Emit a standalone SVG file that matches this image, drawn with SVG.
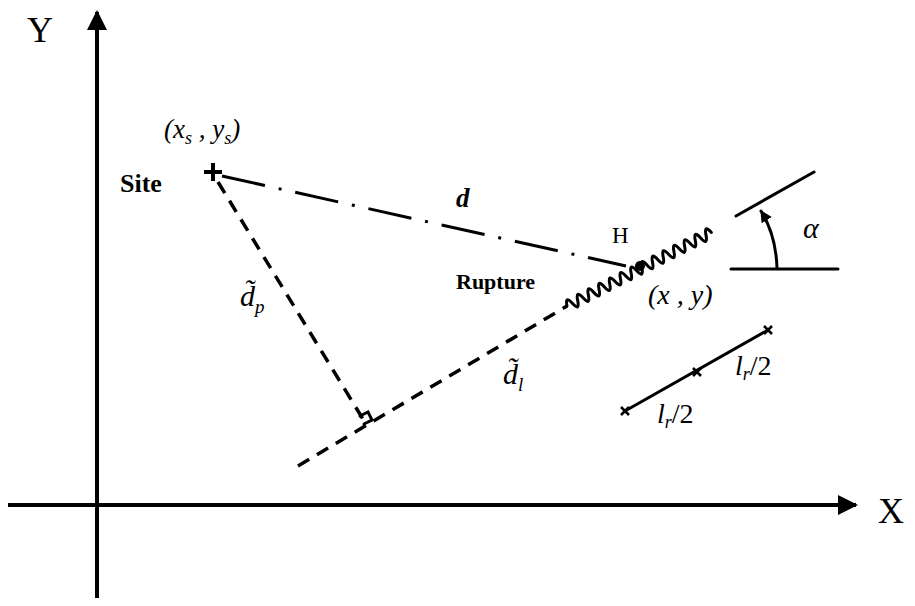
<svg xmlns="http://www.w3.org/2000/svg" width="915" height="606" viewBox="0 0 915 606">
<defs>
<style>
.ax{stroke:#000;stroke-width:4;fill:none}
.ln{stroke:#000;stroke-width:3;fill:none;stroke-linecap:round}
.dash{stroke:#000;stroke-width:3.5;fill:none;stroke-dasharray:13 9}
.dd{stroke:#000;stroke-width:3;fill:none;stroke-dasharray:44 14 3 14}
text{font-family:"Liberation Serif","Times New Roman",serif;fill:#000}
.it{font-style:italic}
.b{font-weight:bold}
</style>
<marker id="ah" viewBox="0 0 10 10" refX="9" refY="5" markerWidth="5" markerHeight="5" orient="auto" markerUnits="strokeWidth">
<path d="M0,0 L10,5 L0,10 Z" fill="#000"/>
</marker>
<marker id="ah2" viewBox="0 0 10 10" refX="9" refY="5" markerWidth="4" markerHeight="4" orient="auto" markerUnits="strokeWidth">
<path d="M0,0 L10,5 L0,10 Z" fill="#000"/>
</marker>
</defs>
<g id="axes">
<line class="ax" x1="97" y1="598" x2="97" y2="12" marker-end="url(#ah)"/>
<line class="ax" x1="8" y1="505" x2="856" y2="505" marker-end="url(#ah)"/>
<text x="27" y="42" font-size="36">Y</text>
<text x="878" y="523" font-size="36">X</text>
</g>
<g id="connectors">
<line class="dd" x1="222" y1="176" x2="626" y2="266"/>
<line class="dash" x1="218" y1="182" x2="366" y2="424"/>
<line class="dash" x1="298" y1="466" x2="567" y2="306"/>
<path d="M360,416 l8,-4 l4,8 l-8,4" class="ln" stroke-width="2.5"/>
</g>
<g id="site">
<path d="M213,163 V181 M204,172 H222" stroke="#000" stroke-width="4"/>
<text x="164" y="138" font-size="27" class="it">(x<tspan font-size="18" dy="6">s</tspan><tspan dy="-6"> , y</tspan><tspan font-size="18" dy="6">s</tspan><tspan dy="-6">)</tspan></text>
<text x="120" y="192" font-size="26" class="b">Site</text>
</g>
<g id="rupture">
<path transform="translate(567,306) rotate(-27)" class="ln" stroke-width="4" d="M0,0 q3,-11 6,0 t6,0 t6,0 t6,0 t6,0 t6,0 t6,0 t6,0 t6,0 t6,0 t6,0 t6,0 t6,0 t6,0 t6,0 t6,0 t6,0 t6,0 t6,0 t6,0 t6,0 t6,0 t6,0 t6,0 t6,0 t6,0 t6,0"/>
<circle cx="640" cy="266" r="5" fill="#000"/>
<text x="456" y="289" font-size="22" class="b">Rupture</text>
<text x="612" y="243" font-size="23">H</text>
<text x="648" y="304" font-size="28" class="it">(x , y)</text>
</g>
<g id="labels">
<text x="456" y="207" font-size="27" class="it b">d</text>
<text x="240" y="306" font-size="30" class="it">d&#x303;<tspan font-size="19" dy="7">p</tspan></text>
<text x="503" y="384" font-size="30" class="it">d&#x303;<tspan font-size="19" dy="7">l</tspan></text>
</g>
<g id="angle">
<line class="ln" x1="736" y1="216" x2="814" y2="172"/>
<line class="ln" x1="731" y1="269" x2="838" y2="269"/>
<path d="M777,268 Q776,235 761,211" class="ln" marker-end="url(#ah2)"/>
<text x="803" y="238" font-size="30" class="it">α</text>
</g>
<g id="length">
<line class="ln" x1="625" y1="411" x2="768" y2="330"/>
<path d="M621,407 l8,8 M629,407 l-8,8 M693,368 l8,8 M701,368 l-8,8 M764,326 l8,8 M772,326 l-8,8" stroke="#000" stroke-width="2.5"/>
<text x="657" y="423" font-size="28" class="it">l<tspan font-size="18" dy="5">r</tspan><tspan dy="-5" font-style="normal">/2</tspan></text>
<text x="735" y="375" font-size="28" class="it">l<tspan font-size="18" dy="5">r</tspan><tspan dy="-5" font-style="normal">/2</tspan></text>
</g>
</svg>
